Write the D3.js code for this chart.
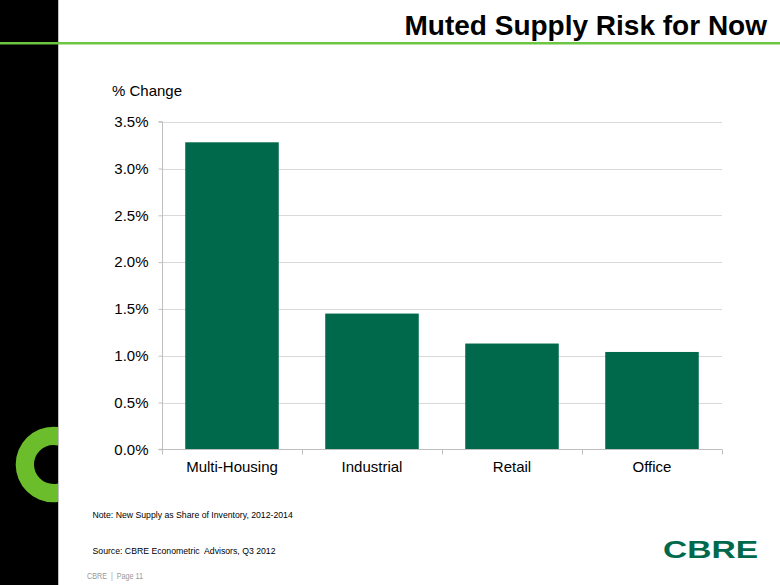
<!DOCTYPE html>
<html><head><meta charset="utf-8">
<script src="https://cdn.jsdelivr.net/npm/d3@7"></script>
<style>html,body{margin:0;padding:0;background:#fff;}svg{display:block;font-family:"Liberation Sans",Arial,sans-serif;}</style>
</head><body>
<script>
const categories = ["Multi-Housing", "Industrial", "Retail", "Office"];
const values = [3.28, 1.45, 1.13, 1.04];
const yTicks = [0, 0.5, 1.0, 1.5, 2.0, 2.5, 3.0, 3.5];
const titleText = "Muted Supply Risk for Now";
const yAxisTitle = "% Change";
const noteText = "Note: New Supply as Share of Inventory, 2012-2014";
const sourceText = "Source: CBRE Econometric  Advisors, Q3 2012";
const footerText = "CBRE  |  Page 11";

const W = 780, H = 585;
const svg = d3.select("body").append("svg").attr("width", W).attr("height", H);

// sidebar
svg.append("rect").attr("x", 0).attr("y", 0).attr("width", 58).attr("height", H).attr("fill", "#000");
svg.append("defs").append("clipPath").attr("id", "sb").append("rect").attr("x", 0).attr("y", 0).attr("width", 58).attr("height", H);
svg.append("g").attr("clip-path", "url(#sb)")
  .append("path")
  .attr("transform", "translate(53.5,464.5)")
  .attr("d", d3.arc().innerRadius(19.5).outerRadius(37.8).startAngle(0).endAngle(2 * Math.PI)())
  .attr("fill", "#6cbd2c");
svg.append("line").attr("x1", 58.5).attr("x2", 58.5).attr("y1", 0).attr("y2", H).attr("stroke", "#bfbfbf").attr("stroke-width", 1);

// title line
svg.append("rect").attr("x", 0).attr("y", 42).attr("width", W).attr("height", 2.5).attr("fill", "#6cc644");
svg.append("text").attr("x", 767).attr("y", 35).attr("text-anchor", "end")
  .attr("font-size", 28).attr("font-weight", "bold").attr("fill", "#000").text(titleText);

// chart
const x = d3.scaleBand().domain(categories).range([162, 722]).paddingInner(0.332).paddingOuter(0.166);
const y = d3.scaleLinear().domain([0, 3.5]).range([449.3, 121.7]);

const g = svg.append("g");
g.selectAll("line.grid").data(yTicks.filter(d => d > 0)).join("line")
  .attr("class", "grid")
  .attr("x1", 162).attr("x2", 722)
  .attr("y1", d => Math.round(y(d)) + 0.5).attr("y2", d => Math.round(y(d)) + 0.5)
  .attr("stroke", "#d9d9d9").attr("stroke-width", 1);

g.selectAll("rect.bar").data(values).join("rect")
  .attr("class", "bar")
  .attr("x", (d, i) => x(categories[i]))
  .attr("width", x.bandwidth())
  .attr("y", d => y(d))
  .attr("height", d => y(0) - y(d))
  .attr("fill", "#00694b");

// y axis
const yAxis = d3.axisLeft(y).tickValues(yTicks).tickSize(4).tickPadding(6).tickFormat(d => d.toFixed(1) + "%");
const ya = svg.append("g").attr("transform", "translate(162.5,0)").call(yAxis);
ya.select(".domain").attr("stroke", "#bfbfbf").attr("d", `M-4,${y(3.5)}H0V${y(0)}H-4`);
ya.selectAll(".tick line").attr("stroke", "#bfbfbf");
ya.selectAll(".tick text").attr("font-size", 15).attr("fill", "#000").attr("font-family", "Liberation Sans, Arial, sans-serif").attr("x", -14);

// x axis
const xa = svg.append("g").attr("transform", `translate(0,${Math.round(y(0)) + 0.5})`);
xa.append("line").attr("x1", 162).attr("x2", 722).attr("stroke", "#bfbfbf");
const bounds = [0, 1, 2, 3, 4].map(i => 162 + i * (560 / 4));
xa.selectAll("line.tk").data(bounds).join("line").attr("class", "tk")
  .attr("x1", d => Math.round(d) + 0.5).attr("x2", d => Math.round(d) + 0.5).attr("y1", 0).attr("y2", 5)
  .attr("stroke", "#bfbfbf");
xa.selectAll("text").data(categories).join("text")
  .attr("x", d => x(d) + x.bandwidth() / 2).attr("y", 22)
  .attr("text-anchor", "middle").attr("font-size", 15).attr("fill", "#000").text(d => d);

svg.append("text").attr("x", 112).attr("y", 96).attr("font-size", 15).attr("fill", "#000").text(yAxisTitle);

// notes
svg.append("text").attr("x", 92.5).attr("y", 518).attr("font-size", 8.7).attr("fill", "#000").text(noteText);
svg.append("text").attr("x", 92.5).attr("y", 554).attr("font-size", 8.7).attr("fill", "#000")
  .attr("xml:space", "preserve").style("white-space", "pre").text(sourceText);
svg.append("text").attr("x", 87).attr("y", 579).attr("font-size", 9).attr("fill", "#999")
  .style("white-space", "pre").attr("textLength", 56).attr("lengthAdjust", "spacingAndGlyphs").text(footerText);

// logo
svg.append("text").attr("x", 663).attr("y", 557.5).attr("font-size", 23).attr("font-weight", "bold")
  .attr("fill", "#00694b").attr("textLength", 95).attr("lengthAdjust", "spacingAndGlyphs").text("CBRE");
</script>
</body></html>
